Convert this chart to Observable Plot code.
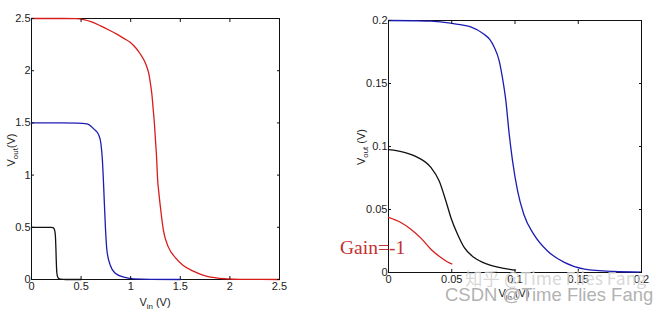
<!DOCTYPE html>
<html><head><meta charset="utf-8">
<script src="https://cdn.jsdelivr.net/npm/d3@7"></script>
<script src="https://cdn.jsdelivr.net/npm/@observablehq/plot@0.6"></script>
<style>
body{margin:0;background:#fff}
#wrap{position:relative;width:670px;height:313px;overflow:hidden;font-family:"Liberation Sans",Arial,sans-serif;background:#fff}
.panel{position:absolute;top:0}
#overlay{position:absolute;left:0;top:0;pointer-events:none}
</style></head><body><div id="wrap"></div>
<script>
// ---- Left panel data (Vdd = 2.5, 1.5, 0.5) ----
const leftTicks = [0, 0.5, 1, 1.5, 2, 2.5];
const leftRedX = [0,0.3,0.45,0.527,0.6,0.695,0.78,0.86,0.93,0.997,1.05,1.097,1.14,1.165,1.185,1.2,1.215,1.225,1.24,1.25,1.262,1.27,1.285,1.3,1.33,1.38,1.45,1.53,1.63,1.77,1.97,2.1,2.5];
const leftRedY = [2.5,2.5,2.499,2.49,2.47,2.43,2.39,2.35,2.31,2.27,2.22,2.16,2.09,2.03,1.96,1.87,1.76,1.65,1.48,1.33,1.15,0.98,0.82,0.69,0.47,0.31,0.21,0.134,0.08,0.03,0.006,0.001,0];
const leftBlueX = [0,0.3,0.46,0.56,0.63,0.68,0.70,0.715,0.728,0.745,0.76,0.795,0.845,0.93,1.03,1.2,1.5];
const leftBlueY = [1.5,1.5,1.498,1.49,1.44,1.38,1.30,1.14,0.88,0.50,0.28,0.134,0.06,0.022,0.006,0.001,0];
const leftBlackX = [0,0.1,0.2,0.215,0.228,0.236,0.242,0.246,0.249,0.252,0.256,0.262,0.272,0.29,0.35,0.5];
const leftBlackY = [0.5,0.5,0.5,0.497,0.485,0.46,0.40,0.30,0.20,0.12,0.06,0.03,0.012,0.003,0,0];

// ---- Right panel data (subthreshold, Vdd = 0.2, 0.1, 0.05) ----
const rightTicks = [0, 0.05, 0.1, 0.15, 0.2];
const rightBlueX = [0,0.02,0.0335,0.049,0.058,0.065,0.0756,0.08,0.0835,0.0875,0.09,0.0928,0.0954,0.098,0.102,0.107,0.115,0.1257,0.139,0.155,0.178,0.2];
const rightBlueY = [0.2,0.1998,0.1995,0.198,0.1965,0.195,0.189,0.185,0.179,0.168,0.155,0.136,0.110,0.089,0.065,0.046,0.030,0.017,0.008,0.0026,0.0008,0.0003];
const rightBlackX = [0,0.0124,0.023,0.0335,0.04,0.0453,0.0493,0.0545,0.0598,0.0677,0.078,0.0914,0.1];
const rightBlackY = [0.0975,0.0954,0.0914,0.0834,0.0728,0.057,0.0437,0.0305,0.0199,0.0119,0.0066,0.0032,0.0019];
const rightRedX = [0,0.0097,0.0177,0.0256,0.0335,0.0414,0.049,0.05];
const rightRedY = [0.0437,0.0397,0.0344,0.0273,0.0185,0.0119,0.0072,0.0068];

const RED = "#d81c1c", BLUE = "#1c1cb4", BLACK = "#111";
const FONT = "'Liberation Sans', Arial, sans-serif";

function series(x, y) { return x.map((v, i) => ({x: v, y: y[i]})); }

function panel({lines, domain, ticks, width, height, margins}) {
  const fmt = d => `${d}`;
  return Plot.plot({
    width, height, ...margins,
    style: {fontFamily: FONT, fontSize: "11px", color: "#222", background: "white", overflow: "visible"},
    x: {domain},
    y: {domain},
    marks: [
      Plot.frame({stroke: "#111", strokeWidth: 1}),
      ...lines.map(l => Plot.line(series(l.x, l.y), {x: "x", y: "y", stroke: l.color, strokeWidth: 1.3, curve: "monotone-x"})),
      Plot.axisX(ticks, {anchor: "bottom", tickSize: -3, tickPadding: 6, tickFormat: fmt, label: null, stroke: "#111"}),
      Plot.axisX(ticks, {anchor: "top", tickSize: -3, tickFormat: () => "", label: null, stroke: "#111"}),
      Plot.axisY(ticks, {anchor: "left", tickSize: -3, tickPadding: 4, tickFormat: fmt, label: null, stroke: "#111"}),
      Plot.axisY(ticks, {anchor: "right", tickSize: -3, tickFormat: () => "", label: null, stroke: "#111"})
    ]
  });
}

const wrap = document.getElementById("wrap");

const left = panel({
  lines: [
    {x: leftBlackX, y: leftBlackY, color: BLACK},
    {x: leftBlueX, y: leftBlueY, color: BLUE},
    {x: leftRedX, y: leftRedY, color: RED}
  ],
  domain: [0, 2.5], ticks: leftTicks, width: 335, height: 313,
  margins: {marginLeft: 31, marginRight: 56, marginTop: 18, marginBottom: 34}
});
left.classList.add("panel"); left.style.left = "0px";
wrap.appendChild(left);

const right = panel({
  lines: [
    {x: rightRedX, y: rightRedY, color: RED},
    {x: rightBlackX, y: rightBlackY, color: BLACK},
    {x: rightBlueX, y: rightBlueY, color: BLUE}
  ],
  domain: [0, 0.2], ticks: rightTicks, width: 335, height: 313,
  margins: {marginLeft: 53, marginRight: 29, marginTop: 20, marginBottom: 41}
});
right.classList.add("panel"); right.style.left = "335px";
wrap.appendChild(right);

// ---- overlay: axis labels with subscripts, annotation, watermark ----
const svg = d3.select(wrap).append("svg").attr("id", "overlay")
  .attr("width", 670).attr("height", 313).attr("font-family", FONT);

function subLabel(g, main, sub, rest, size) {
  const t = g.append("text").attr("text-anchor", "middle").attr("font-size", size).attr("fill", "#222");
  t.append("tspan").text(main);
  t.append("tspan").attr("font-size", size * 0.72).attr("dy", 3).text(sub);
  t.append("tspan").attr("dy", -3).text(rest);
  return t;
}

subLabel(svg.append("g").attr("transform", "translate(15,150) rotate(-90)"), "V", "out", "(V)", 11);
subLabel(svg.append("g").attr("transform", "translate(155,306)"), "V", "in", " (V)", 11);
subLabel(svg.append("g").attr("transform", "translate(365,147) rotate(-90)"), "V", "out", " (V)", 11);
subLabel(svg.append("g").attr("transform", "translate(514,297)"), "V", "in", " (V)", 11);

svg.append("text").attr("x", 340).attr("y", 254)
  .attr("font-family", "'Liberation Serif', 'DejaVu Serif', serif").attr("font-size", 19.5)
  .attr("fill", "#c43030").text("Gain=-1");

svg.append("text").attr("x", 465).attr("y", 285).attr("font-size", 17.5)
  .attr("font-family", "'Noto Sans CJK SC', " + FONT)
  .attr("fill", "#d0d0d0").attr("fill-opacity", 0.85).text("知乎 @Time Flies Fang");
svg.append("text").attr("x", 445).attr("y", 301).attr("font-size", 18.5)
  .attr("fill", "#a8a8a8").attr("stroke", "#fff").attr("stroke-width", 0.6)
  .attr("paint-order", "stroke").attr("fill-opacity", 0.9).text("CSDN @Time Flies Fang");
</script>
</body></html>
